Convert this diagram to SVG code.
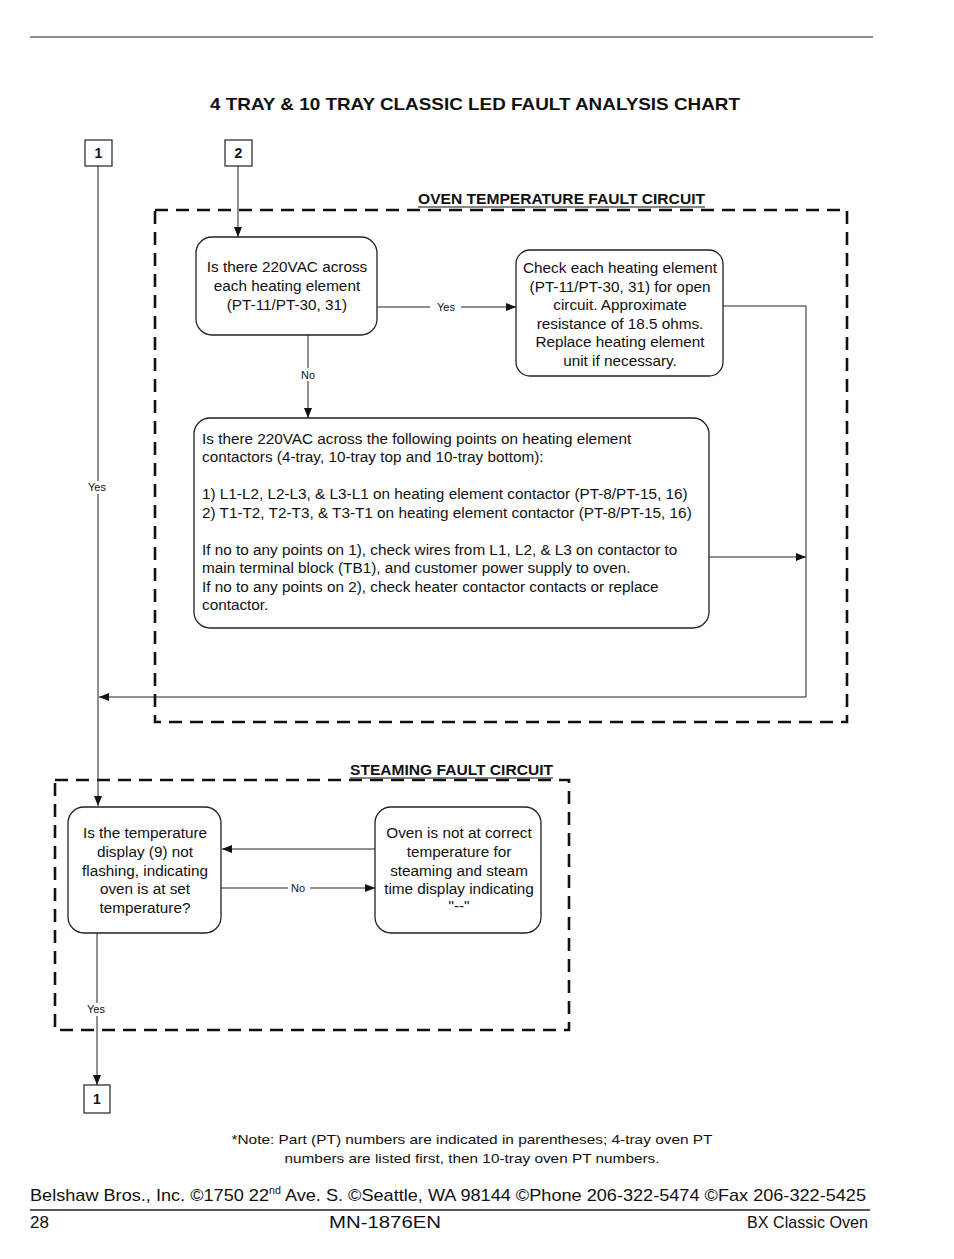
<svg xmlns="http://www.w3.org/2000/svg" width="954" height="1259" viewBox="0 0 954 1259">
<style>
.t{font-family:"Liberation Sans",Arial,sans-serif;fill:#111}
.b{font-weight:bold}
.box{fill:#fff;stroke:#222;stroke-width:1.3}
.dash{fill:none;stroke:#111;stroke-width:2.6;stroke-dasharray:13 8}
.con{fill:none;stroke:#222;stroke-width:1}
.lbl{font-family:"Liberation Sans",Arial,sans-serif;font-size:11px;fill:#111;text-anchor:middle}
.node{font-family:"Liberation Sans",Arial,sans-serif;font-size:15.3px;fill:#111}
</style>
<defs>
<marker id="ah" markerWidth="10" markerHeight="8" refX="10" refY="4" orient="auto" markerUnits="userSpaceOnUse">
<path d="M0,0 L10,4 L0,8 Z" fill="#111"/>
</marker>
</defs>
<rect width="954" height="1259" fill="#fff"/>
<line x1="30" y1="37" x2="873" y2="37" stroke="#222" stroke-width="1.2"/>
<text class="t b" x="475" y="110" font-size="17" text-anchor="middle" textLength="530" lengthAdjust="spacingAndGlyphs">4 TRAY &amp; 10 TRAY CLASSIC LED FAULT ANALYSIS CHART</text>

<g id="oven-circuit">
<rect class="dash" x="155" y="210" width="692" height="512"/>
<rect x="416" y="188" width="292" height="20" fill="#fff"/>
<text class="t b" x="418" y="204" font-size="14" textLength="287" lengthAdjust="spacingAndGlyphs">OVEN TEMPERATURE FAULT CIRCUIT</text>
<line x1="418" y1="207" x2="705" y2="207" stroke="#111" stroke-width="1"/>
</g>
<g id="steam-circuit">
<rect class="dash" x="55" y="780" width="514" height="250"/>
<rect x="348" y="758" width="208" height="20" fill="#fff"/>
<text class="t b" x="350" y="775" font-size="14" textLength="203" lengthAdjust="spacingAndGlyphs">STEAMING FAULT CIRCUIT</text>
<line x1="350" y1="778" x2="553" y2="778" stroke="#111" stroke-width="1"/>
</g>

<g id="connectors">
<line class="con" x1="98" y1="166" x2="98" y2="806" marker-end="url(#ah)"/>
<line class="con" x1="238" y1="166" x2="238" y2="237" marker-end="url(#ah)"/>
<polyline class="con" points="378,307 516,307" marker-end="url(#ah)"/>
<line class="con" x1="308" y1="335" x2="308" y2="418" marker-end="url(#ah)"/>
<polyline class="con" points="723,306 806,306 806,697 99,697" marker-end="url(#ah)"/>
<line class="con" x1="709" y1="557" x2="806" y2="557" marker-end="url(#ah)"/>
<line class="con" x1="375" y1="849" x2="222" y2="849" marker-end="url(#ah)"/>
<line class="con" x1="221" y1="888" x2="375" y2="888" marker-end="url(#ah)"/>
<line class="con" x1="97" y1="933" x2="97" y2="1085" marker-end="url(#ah)"/>
<rect x="430" y="301" width="31" height="12" fill="#fff"/>
<text class="lbl" x="446" y="311">Yes</text>
<rect x="298" y="368" width="20" height="13" fill="#fff"/>
<text class="lbl" x="308" y="379">No</text>
<rect x="84" y="481" width="28" height="13" fill="#fff"/>
<text class="lbl" x="97" y="491">Yes</text>
<rect x="288" y="882" width="22" height="12" fill="#fff"/>
<text class="lbl" x="298" y="892">No</text>
<rect x="83" y="1003" width="28" height="13" fill="#fff"/>
<text class="lbl" x="96" y="1013">Yes</text>
</g>

<g id="ref1-top">
<rect x="85" y="140" width="27" height="26" fill="#fff" stroke="#222" stroke-width="1.2"/>
<text class="t b" x="98.5" y="158" font-size="14" text-anchor="middle">1</text>
</g>
<g id="ref2-top">
<rect x="225" y="140" width="27" height="26" fill="#fff" stroke="#222" stroke-width="1.2"/>
<text class="t b" x="238.5" y="158" font-size="14" text-anchor="middle">2</text>
</g>

<g id="node-a">
<rect class="box" x="196" y="237" width="181" height="98" rx="16"/>
<text class="node" text-anchor="middle"><tspan x="287" y="272">Is there 220VAC across</tspan><tspan x="287" y="291">each heating element</tspan><tspan x="287" y="310">(PT-11/PT-30, 31)</tspan></text>
</g>

<g id="node-b">
<rect class="box" x="516" y="250" width="207" height="126" rx="14"/>
<text class="node" text-anchor="middle"><tspan x="620" y="273">Check each heating element</tspan><tspan x="620" y="292">(PT-11/PT-30, 31) for open</tspan><tspan x="620" y="310">circuit.  Approximate</tspan><tspan x="620" y="329">resistance of 18.5 ohms.</tspan><tspan x="620" y="347">Replace heating element</tspan><tspan x="620" y="366">unit if necessary.</tspan></text>
</g>

<g id="node-c">
<rect class="box" x="194" y="418" width="515" height="210" rx="16"/>
<text class="node"><tspan x="202" y="444">Is there 220VAC across the following points on heating element</tspan><tspan x="202" y="462">contactors (4-tray, 10-tray top and 10-tray bottom):</tspan><tspan x="202" y="499">1) L1-L2, L2-L3, &amp; L3-L1 on heating element contactor (PT-8/PT-15, 16)</tspan><tspan x="202" y="518">2) T1-T2, T2-T3, &amp; T3-T1 on heating element contactor (PT-8/PT-15, 16)</tspan><tspan x="202" y="555">If no to any points on 1), check wires from L1, L2, &amp; L3 on contactor to</tspan><tspan x="202" y="573">main terminal block (TB1), and customer power supply to oven.</tspan><tspan x="202" y="592">If no to any points on 2), check heater contactor contacts or replace</tspan><tspan x="202" y="610">contactor.</tspan></text>
</g>

<g id="node-d">
<rect class="box" x="68" y="807" width="153" height="126" rx="16"/>
<text class="node" text-anchor="middle"><tspan x="145" y="838">Is the temperature</tspan><tspan x="145" y="857">display (9) not</tspan><tspan x="145" y="876">flashing, indicating</tspan><tspan x="145" y="894">oven is at set</tspan><tspan x="145" y="913">temperature?</tspan></text>
</g>

<g id="node-e">
<rect class="box" x="375" y="807" width="166" height="126" rx="16"/>
<text class="node" text-anchor="middle"><tspan x="459" y="838">Oven is not at correct</tspan><tspan x="459" y="857">temperature for</tspan><tspan x="459" y="876">steaming and steam</tspan><tspan x="459" y="894">time display indicating</tspan><tspan x="459" y="911">"--"</tspan></text>
</g>

<g id="ref1-bottom">
<rect x="84" y="1085" width="26" height="28" fill="#fff" stroke="#222" stroke-width="1.2"/>
<text class="t b" x="97" y="1104" font-size="14" text-anchor="middle">1</text>
</g>

<text class="t" font-size="13" text-anchor="middle"><tspan x="472" y="1144" textLength="481" lengthAdjust="spacingAndGlyphs">*Note: Part (PT) numbers are indicated in parentheses; 4-tray oven PT</tspan></text>
<text class="t" font-size="13" text-anchor="middle"><tspan x="472" y="1163" textLength="375" lengthAdjust="spacingAndGlyphs">numbers are listed first, then 10-tray oven PT numbers.</tspan></text>

<text class="t" x="30" y="1201" font-size="17" textLength="836" lengthAdjust="spacingAndGlyphs">Belshaw Bros., Inc. ©1750 22<tspan font-size="10" dy="-7">nd</tspan><tspan dy="7"> Ave. S. ©Seattle, WA 98144 ©Phone 206-322-5474 ©Fax 206-322-5425</tspan></text>
<line x1="30" y1="1210" x2="870" y2="1210" stroke="#222" stroke-width="1.5"/>
<text class="t" x="30" y="1228" font-size="17">28</text>
<text class="t" x="385" y="1228" font-size="17" text-anchor="middle" textLength="112" lengthAdjust="spacingAndGlyphs">MN-1876EN</text>
<text class="t" x="868" y="1228" font-size="17" text-anchor="end" textLength="121" lengthAdjust="spacingAndGlyphs">BX Classic Oven</text>
</svg>
